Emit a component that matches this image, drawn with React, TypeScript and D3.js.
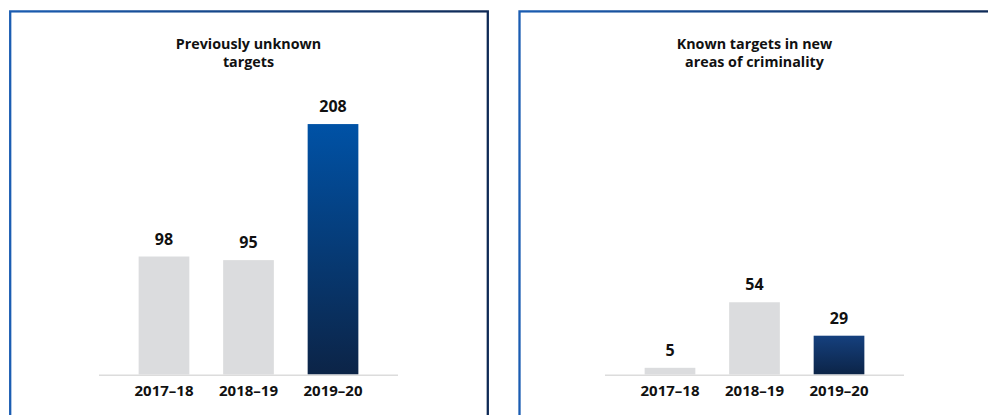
import React from 'react';
import * as d3 from 'd3';

const categories = ['2017–18', '2018–19', '2019–20'];
const previouslyUnknown = [98, 95, 208];
const knownNewAreas = [5, 54, 29];
const titleLeft = ['Previously unknown', 'targets'];
const titleRight = ['Known targets in new', 'areas of criminality'];

const W = 988;
const H = 415;
const FONT = "'Open Sans', 'Noto Sans', sans-serif";

type PanelProps = {
  id: string;
  x0: number;
  center: number;
  values: number[];
  title: string[];
  yMax: number;
  gradTop: string;
  gradBottom: string;
};

function Panel({ id, x0, center, values, title, yMax, gradTop, gradBottom }: PanelProps) {
  const axisY = 374.5;
  const half = 149.5;
  const x = d3
    .scaleBand<string>()
    .domain(categories)
    .range([center - half, center + half])
    .paddingInner(0.4)
    .paddingOuter(0.469);
  const y = d3.scaleLinear().domain([0, yMax]).range([axisY, 73.5]);
  return (
    <g>
      <defs>
        <linearGradient id={`border-${id}`} x1="0" y1="0" x2="1" y2="0">
          <stop offset="0%" stopColor="#1b5db2" />
          <stop offset="100%" stopColor="#0f2a56" />
        </linearGradient>
        <linearGradient id={`bar-${id}`} x1="0" y1="0" x2="0" y2="1">
          <stop offset="0%" stopColor={gradTop} />
          <stop offset="100%" stopColor={gradBottom} />
        </linearGradient>
      </defs>
      <rect
        x={x0}
        y={11.4}
        width={477.6}
        height={440}
        fill="none"
        stroke={`url(#border-${id})`}
        strokeWidth={2.3}
      />
      {title.map((t, i) => (
        <text
          key={i}
          x={center}
          y={48.5 + i * 18.5}
          textAnchor="middle"
          fontFamily={FONT}
          fontWeight={700}
          fontSize={14.3}
          fill="#111"
        >
          {t}
        </text>
      ))}
      {values.map((v, i) => {
        const c = categories[i];
        const last = i === values.length - 1;
        return (
          <g key={c}>
            <rect
              x={x(c)}
              y={y(v)}
              width={x.bandwidth()}
              height={axisY - y(v)}
              fill={last ? `url(#bar-${id})` : '#dbdcde'}
            />
            <text
              x={(x(c) as number) + x.bandwidth() / 2}
              y={y(v) - 12}
              textAnchor="middle"
              fontFamily={FONT}
              fontWeight={700}
              fontSize={16}
              fill="#111"
            >
              {v}
            </text>
            <text
              x={(x(c) as number) + x.bandwidth() / 2}
              y={396.3}
              textAnchor="middle"
              fontFamily={FONT}
              fontWeight={700}
              fontSize={15}
              fill="#111"
            >
              {c}
            </text>
          </g>
        );
      })}
      <line
        x1={center - half}
        x2={center + half}
        y1={axisY + 0.8}
        y2={axisY + 0.8}
        stroke="#dcdcdc"
        strokeWidth={1.6}
      />
    </g>
  );
}

export default function App() {
  return (
    <svg
      width={W}
      height={H}
      style={{ position: 'absolute', left: 0, top: 0, background: '#fff' }}
    >
      <rect x={0} y={0} width={W} height={H} fill="#fff" />
      <Panel
        id="l"
        x0={10.2}
        center={248.5}
        values={previouslyUnknown}
        title={titleLeft}
        yMax={250}
        gradTop="#0052a6"
        gradBottom="#0c2447"
      />
      <Panel
        id="r"
        x0={519.5}
        center={754.5}
        values={knownNewAreas}
        title={titleRight}
        yMax={225}
        gradTop="#15407e"
        gradBottom="#0c2447"
      />
    </svg>
  );
}
